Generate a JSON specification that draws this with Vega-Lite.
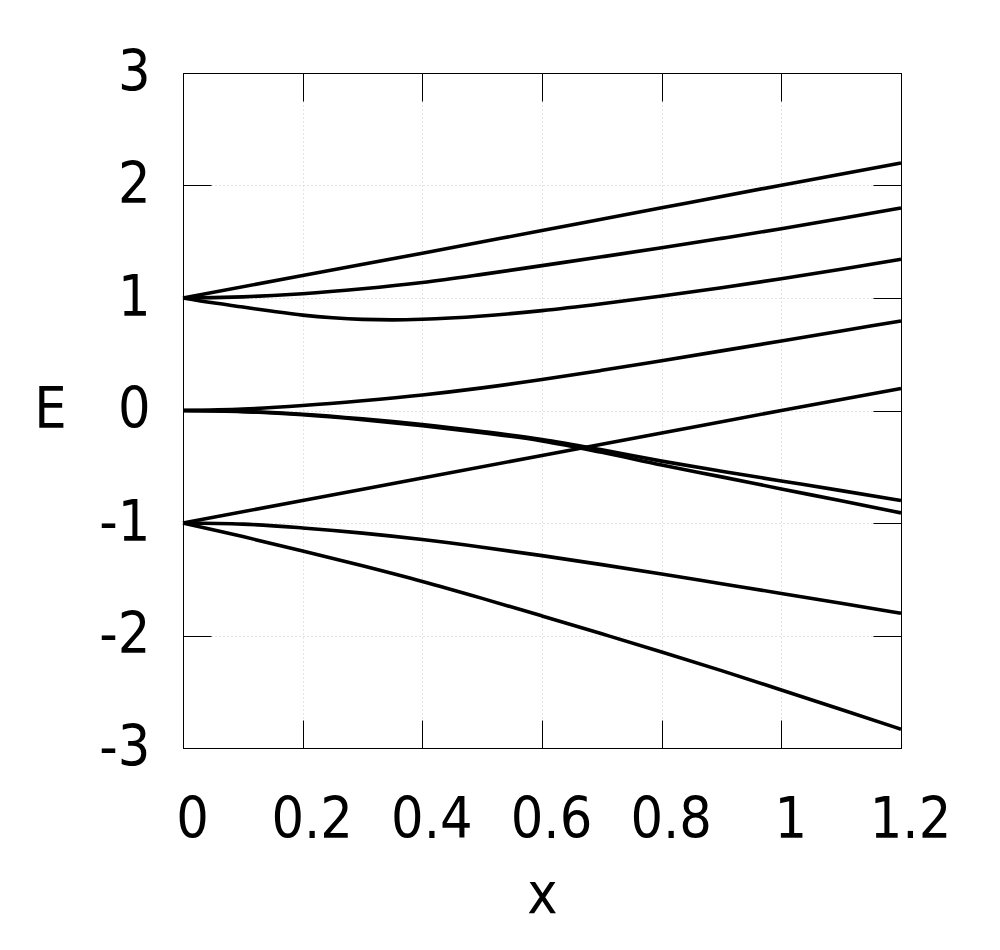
{
  "$schema": "https://vega.github.io/schema/vega-lite/v6.json",
  "width": 718,
  "height": 675,
  "autosize": "none",
  "padding": {"left": 183, "top": 73, "right": 99, "bottom": 202},
  "background": "white",
  "config": {"view": {"stroke": "black", "strokeWidth": 1}, "font": "DejaVu Sans"},
  "data": {"values": [
    {"b":"b1","x":0,"E":1},{"b":"b1","x":0.2,"E":1.2},{"b":"b1","x":0.4,"E":1.398},{"b":"b1","x":0.6,"E":1.6},{"b":"b1","x":0.8,"E":1.802},{"b":"b1","x":1.0,"E":2.003},{"b":"b1","x":1.2,"E":2.2},
    {"b":"b2","x":0,"E":1},{"b":"b2","x":0.05,"E":1.003},{"b":"b2","x":0.1,"E":1.01},{"b":"b2","x":0.15,"E":1.022},{"b":"b2","x":0.2,"E":1.038},{"b":"b2","x":0.3,"E":1.082},{"b":"b2","x":0.4,"E":1.138},{"b":"b2","x":0.5,"E":1.21},{"b":"b2","x":0.6,"E":1.288},{"b":"b2","x":0.7,"E":1.366},{"b":"b2","x":0.8,"E":1.446},{"b":"b2","x":0.9,"E":1.53},{"b":"b2","x":1.0,"E":1.616},{"b":"b2","x":1.1,"E":1.707},{"b":"b2","x":1.2,"E":1.8},
    {"b":"b3","x":0,"E":1},{"b":"b3","x":0.05,"E":0.957},{"b":"b3","x":0.1,"E":0.92},{"b":"b3","x":0.15,"E":0.882},{"b":"b3","x":0.2,"E":0.848},{"b":"b3","x":0.25,"E":0.824},{"b":"b3","x":0.3,"E":0.81},{"b":"b3","x":0.35,"E":0.806},{"b":"b3","x":0.4,"E":0.811},{"b":"b3","x":0.5,"E":0.84},{"b":"b3","x":0.6,"E":0.888},{"b":"b3","x":0.7,"E":0.949},{"b":"b3","x":0.8,"E":1.017},{"b":"b3","x":0.9,"E":1.091},{"b":"b3","x":1.0,"E":1.171},{"b":"b3","x":1.1,"E":1.255},{"b":"b3","x":1.2,"E":1.344},
    {"b":"b4","x":0,"E":0},{"b":"b4","x":0.1,"E":0.012},{"b":"b4","x":0.2,"E":0.044},{"b":"b4","x":0.3,"E":0.087},{"b":"b4","x":0.4,"E":0.138},{"b":"b4","x":0.5,"E":0.201},{"b":"b4","x":0.6,"E":0.275},{"b":"b4","x":0.7,"E":0.357},{"b":"b4","x":0.8,"E":0.443},{"b":"b4","x":0.9,"E":0.53},{"b":"b4","x":1.0,"E":0.618},{"b":"b4","x":1.1,"E":0.707},{"b":"b4","x":1.2,"E":0.796},
    {"b":"b5","x":0,"E":-1},{"b":"b5","x":0.2,"E":-0.8},{"b":"b5","x":0.4,"E":-0.6},{"b":"b5","x":0.6,"E":-0.4},{"b":"b5","x":0.8,"E":-0.2},{"b":"b5","x":1.0,"E":0},{"b":"b5","x":1.2,"E":0.196},
    {"b":"b6","x":0,"E":0},{"b":"b6","x":0.1,"E":-0.008},{"b":"b6","x":0.2,"E":-0.033},{"b":"b6","x":0.3,"E":-0.074},{"b":"b6","x":0.4,"E":-0.125},{"b":"b6","x":0.5,"E":-0.187},{"b":"b6","x":0.6,"E":-0.258},{"b":"b6","x":0.7,"E":-0.35},{"b":"b6","x":0.8,"E":-0.45},{"b":"b6","x":0.9,"E":-0.54},{"b":"b6","x":1.0,"E":-0.626},{"b":"b6","x":1.1,"E":-0.712},{"b":"b6","x":1.2,"E":-0.8},
    {"b":"b7","x":0,"E":0},{"b":"b7","x":0.1,"E":-0.01},{"b":"b7","x":0.2,"E":-0.038},{"b":"b7","x":0.3,"E":-0.082},{"b":"b7","x":0.4,"E":-0.136},{"b":"b7","x":0.5,"E":-0.198},{"b":"b7","x":0.6,"E":-0.27},{"b":"b7","x":0.7,"E":-0.372},{"b":"b7","x":0.8,"E":-0.485},{"b":"b7","x":0.9,"E":-0.59},{"b":"b7","x":1.0,"E":-0.697},{"b":"b7","x":1.1,"E":-0.803},{"b":"b7","x":1.2,"E":-0.91},
    {"b":"b8","x":0,"E":-1},{"b":"b8","x":0.1,"E":-1.01},{"b":"b8","x":0.2,"E":-1.044},{"b":"b8","x":0.3,"E":-1.09},{"b":"b8","x":0.4,"E":-1.147},{"b":"b8","x":0.5,"E":-1.215},{"b":"b8","x":0.6,"E":-1.29},{"b":"b8","x":0.7,"E":-1.37},{"b":"b8","x":0.8,"E":-1.454},{"b":"b8","x":0.9,"E":-1.54},{"b":"b8","x":1.0,"E":-1.626},{"b":"b8","x":1.1,"E":-1.714},{"b":"b8","x":1.2,"E":-1.803},
    {"b":"b9","x":0,"E":-1},{"b":"b9","x":0.05,"E":-1.06},{"b":"b9","x":0.1,"E":-1.121},{"b":"b9","x":0.2,"E":-1.248},{"b":"b9","x":0.3,"E":-1.381},{"b":"b9","x":0.4,"E":-1.52},{"b":"b9","x":0.5,"E":-1.67},{"b":"b9","x":0.6,"E":-1.826},{"b":"b9","x":0.7,"E":-1.985},{"b":"b9","x":0.8,"E":-2.146},{"b":"b9","x":0.9,"E":-2.312},{"b":"b9","x":1.0,"E":-2.484},{"b":"b9","x":1.1,"E":-2.658},{"b":"b9","x":1.2,"E":-2.833}
  ]},
  "layer": [
    {
      "mark": {"type": "line", "color": "black", "strokeWidth": 3.6, "interpolate": "monotone"},
      "encoding": {
        "x": {"field": "x", "type": "quantitative",
          "scale": {"domain": [0, 1.2], "nice": false, "zero": false},
          "axis": {"orient": "bottom", "values": [0, 0.2, 0.4, 0.6, 0.8, 1, 1.2], "labelExpr": "'' + datum.value",
            "grid": true, "gridColor": "#c8c8c8", "gridDash": [1, 3], "gridWidth": 1,
            "tickSize": -28, "tickColor": "black", "tickWidth": 1, "domainColor": "black", "domainWidth": 1,
            "labelFont": "DejaVu Sans Condensed", "labelFontSize": 57, "labelColor": "black", "labelPadding": 100, "labelBaseline": "middle",
            "labelOffset": 9, "labelFlush": false, "labelOverlap": false,
            "title": "x", "titleFont": "DejaVu Sans Condensed", "titleFontSize": 57, "titleFontWeight": "normal", "titleColor": "black",
            "titleY": 147, "titleBaseline": "middle"}},
        "y": {"field": "E", "type": "quantitative",
          "scale": {"domain": [-3, 3], "nice": false, "zero": false},
          "axis": {"orient": "left", "values": [-3, -2, -1, 0, 1, 2, 3], "labelExpr": "'' + datum.value",
            "grid": true, "gridColor": "#c8c8c8", "gridDash": [1, 3], "gridWidth": 1,
            "tickSize": -28, "tickColor": "black", "tickWidth": 1, "domainColor": "black", "domainWidth": 1,
            "labelFont": "DejaVu Sans Condensed", "labelFontSize": 57, "labelColor": "black", "labelPadding": 61, "labelBaseline": "middle",
            "labelFlush": false, "labelOverlap": false,
            "title": "E", "titleFont": "DejaVu Sans Condensed", "titleFontSize": 57, "titleFontWeight": "normal", "titleColor": "black",
            "titleAngle": 0, "titleX": -133, "titleY": 337, "titleAlign": "center", "titleBaseline": "middle"}},
        "detail": {"field": "b", "type": "nominal"}
      }
    },
    {
      "mark": {"type": "line", "strokeOpacity": 0},
      "encoding": {
        "x": {"field": "x", "type": "quantitative",
          "axis": {"orient": "top", "values": [0, 0.2, 0.4, 0.6, 0.8, 1, 1.2], "labels": false, "grid": false,
            "tickSize": -28, "tickColor": "black", "tickWidth": 1, "domainColor": "black", "title": null}},
        "y": {"field": "E", "type": "quantitative",
          "axis": {"orient": "right", "values": [-3, -2, -1, 0, 1, 2, 3], "labels": false, "grid": false,
            "tickSize": -28, "tickColor": "black", "tickWidth": 1, "domainColor": "black", "title": null}},
        "detail": {"field": "b", "type": "nominal"}
      }
    }
  ],
  "resolve": {"axis": {"x": "independent", "y": "independent"}}
}
